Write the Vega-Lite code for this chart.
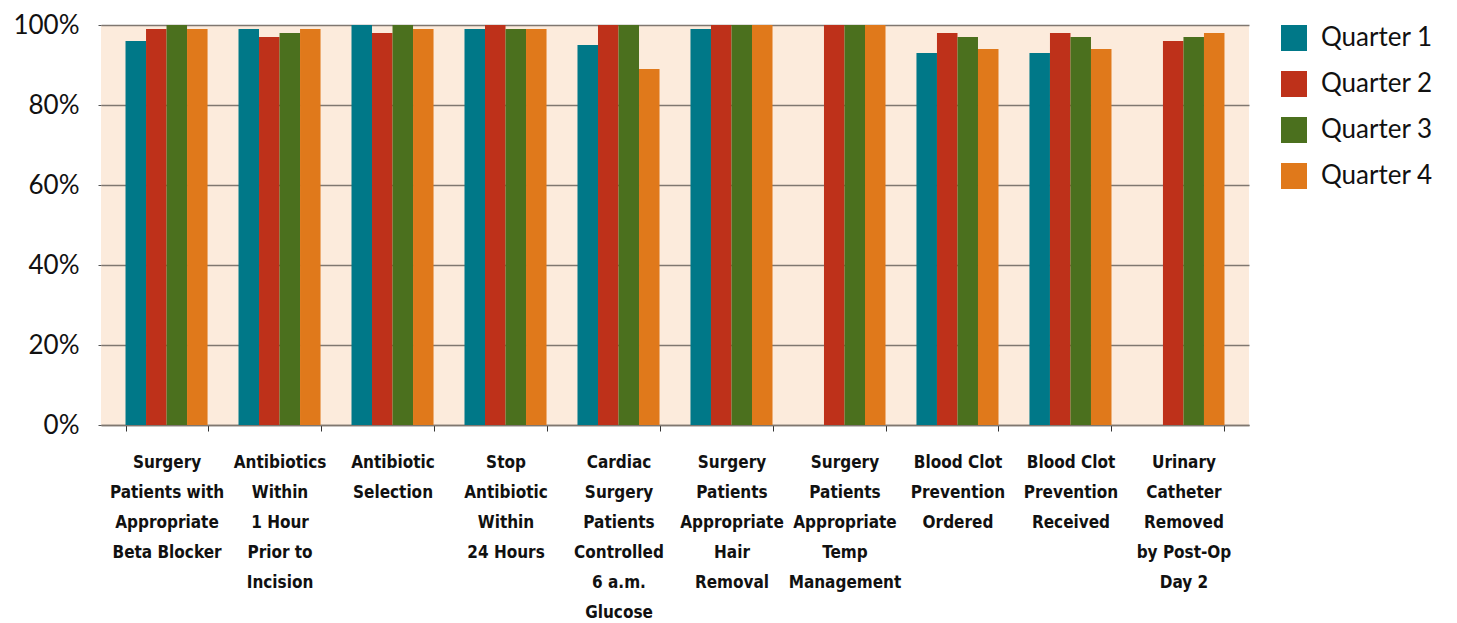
{
  "$schema": "https://vega.github.io/schema/vega-lite/v6.json",
  "width": 1148,
  "height": 400,
  "autosize": "none",
  "padding": {"left": 101, "top": 25, "right": 208, "bottom": 198},
  "background": "white",
  "config": {
    "view": {"fill": "#FCEBDC", "stroke": null},
    "font": "Lato"
  },
  "data": {
    "values": [
      {"measure": "Surgery|Patients with|Appropriate|Beta Blocker", "quarter": "Quarter 1", "value": 96},
      {"measure": "Surgery|Patients with|Appropriate|Beta Blocker", "quarter": "Quarter 2", "value": 99},
      {"measure": "Surgery|Patients with|Appropriate|Beta Blocker", "quarter": "Quarter 3", "value": 100},
      {"measure": "Surgery|Patients with|Appropriate|Beta Blocker", "quarter": "Quarter 4", "value": 99},
      {"measure": "Antibiotics|Within|1 Hour|Prior to|Incision", "quarter": "Quarter 1", "value": 99},
      {"measure": "Antibiotics|Within|1 Hour|Prior to|Incision", "quarter": "Quarter 2", "value": 97},
      {"measure": "Antibiotics|Within|1 Hour|Prior to|Incision", "quarter": "Quarter 3", "value": 98},
      {"measure": "Antibiotics|Within|1 Hour|Prior to|Incision", "quarter": "Quarter 4", "value": 99},
      {"measure": "Antibiotic|Selection", "quarter": "Quarter 1", "value": 100},
      {"measure": "Antibiotic|Selection", "quarter": "Quarter 2", "value": 98},
      {"measure": "Antibiotic|Selection", "quarter": "Quarter 3", "value": 100},
      {"measure": "Antibiotic|Selection", "quarter": "Quarter 4", "value": 99},
      {"measure": "Stop|Antibiotic|Within|24 Hours", "quarter": "Quarter 1", "value": 99},
      {"measure": "Stop|Antibiotic|Within|24 Hours", "quarter": "Quarter 2", "value": 100},
      {"measure": "Stop|Antibiotic|Within|24 Hours", "quarter": "Quarter 3", "value": 99},
      {"measure": "Stop|Antibiotic|Within|24 Hours", "quarter": "Quarter 4", "value": 99},
      {"measure": "Cardiac|Surgery|Patients|Controlled|6 a.m.|Glucose", "quarter": "Quarter 1", "value": 95},
      {"measure": "Cardiac|Surgery|Patients|Controlled|6 a.m.|Glucose", "quarter": "Quarter 2", "value": 100},
      {"measure": "Cardiac|Surgery|Patients|Controlled|6 a.m.|Glucose", "quarter": "Quarter 3", "value": 100},
      {"measure": "Cardiac|Surgery|Patients|Controlled|6 a.m.|Glucose", "quarter": "Quarter 4", "value": 89},
      {"measure": "Surgery|Patients|Appropriate|Hair|Removal", "quarter": "Quarter 1", "value": 99},
      {"measure": "Surgery|Patients|Appropriate|Hair|Removal", "quarter": "Quarter 2", "value": 100},
      {"measure": "Surgery|Patients|Appropriate|Hair|Removal", "quarter": "Quarter 3", "value": 100},
      {"measure": "Surgery|Patients|Appropriate|Hair|Removal", "quarter": "Quarter 4", "value": 100},
      {"measure": "Surgery|Patients|Appropriate|Temp|Management", "quarter": "Quarter 2", "value": 100},
      {"measure": "Surgery|Patients|Appropriate|Temp|Management", "quarter": "Quarter 3", "value": 100},
      {"measure": "Surgery|Patients|Appropriate|Temp|Management", "quarter": "Quarter 4", "value": 100},
      {"measure": "Blood Clot|Prevention|Ordered", "quarter": "Quarter 1", "value": 93},
      {"measure": "Blood Clot|Prevention|Ordered", "quarter": "Quarter 2", "value": 98},
      {"measure": "Blood Clot|Prevention|Ordered", "quarter": "Quarter 3", "value": 97},
      {"measure": "Blood Clot|Prevention|Ordered", "quarter": "Quarter 4", "value": 94},
      {"measure": "Blood Clot|Prevention|Received", "quarter": "Quarter 1", "value": 93},
      {"measure": "Blood Clot|Prevention|Received", "quarter": "Quarter 2", "value": 98},
      {"measure": "Blood Clot|Prevention|Received", "quarter": "Quarter 3", "value": 97},
      {"measure": "Blood Clot|Prevention|Received", "quarter": "Quarter 4", "value": 94},
      {"measure": "Urinary|Catheter|Removed|by Post-Op|Day 2", "quarter": "Quarter 2", "value": 96},
      {"measure": "Urinary|Catheter|Removed|by Post-Op|Day 2", "quarter": "Quarter 3", "value": 97},
      {"measure": "Urinary|Catheter|Removed|by Post-Op|Day 2", "quarter": "Quarter 4", "value": 98}
    ]
  },
  "mark": {"type": "bar"},
  "encoding": {
    "x": {
      "field": "measure",
      "type": "nominal",
      "sort": null,
      "scale": {"paddingInner": 0.274, "paddingOuter": 0.217},
      "axis": {
        "title": null,
        "labelAngle": 0,
        "labelExpr": "split(datum.label, '|')",
        "labelFont": "DejaVu Sans Condensed",
        "labelFontWeight": "bold",
        "labelFontSize": 17,
        "labelLineHeight": 30,
        "labelColor": "#111111",
        "labelPadding": 23,
        "labelBaseline": "top",
        "labelLimit": 200,
        "tickBand": "extent",
        "ticks": true,
        "tickSize": 6,
        "tickColor": "#333333",
        "domainColor": "#7f7770",
        "domainWidth": 1.5,
        "grid": false
      }
    },
    "xOffset": {
      "field": "quarter",
      "type": "nominal",
      "sort": ["Quarter 1", "Quarter 2", "Quarter 3", "Quarter 4"],
      "scale": {"paddingInner": 0, "paddingOuter": 0}
    },
    "y": {
      "field": "value",
      "type": "quantitative",
      "scale": {"domain": [0, 100], "nice": false},
      "axis": {
        "title": null,
        "values": [0, 20, 40, 60, 80, 100],
        "labelExpr": "datum.value + '%'",
        "labelFontSize": 26,
        "labelColor": "#111111",
        "labelPadding": 19,
        "tickSize": 3,
        "tickColor": "#555555",
        "domain": false,
        "gridColor": "#7f7770",
        "gridWidth": 1.5
      }
    },
    "color": {
      "field": "quarter",
      "type": "nominal",
      "scale": {
        "domain": ["Quarter 1", "Quarter 2", "Quarter 3", "Quarter 4"],
        "range": ["#007888", "#BE311A", "#4B701E", "#E0791B"]
      },
      "legend": {
        "title": null,
        "orient": "right",
        "offset": 32,
        "symbolType": "square",
        "symbolSize": 676,
        "symbolStrokeWidth": 0,
        "symbolOpacity": 1,
        "labelFontSize": 26,
        "labelColor": "#111111",
        "labelOffset": 14,
        "rowPadding": 20,
        "padding": 0
      }
    }
  }
}
